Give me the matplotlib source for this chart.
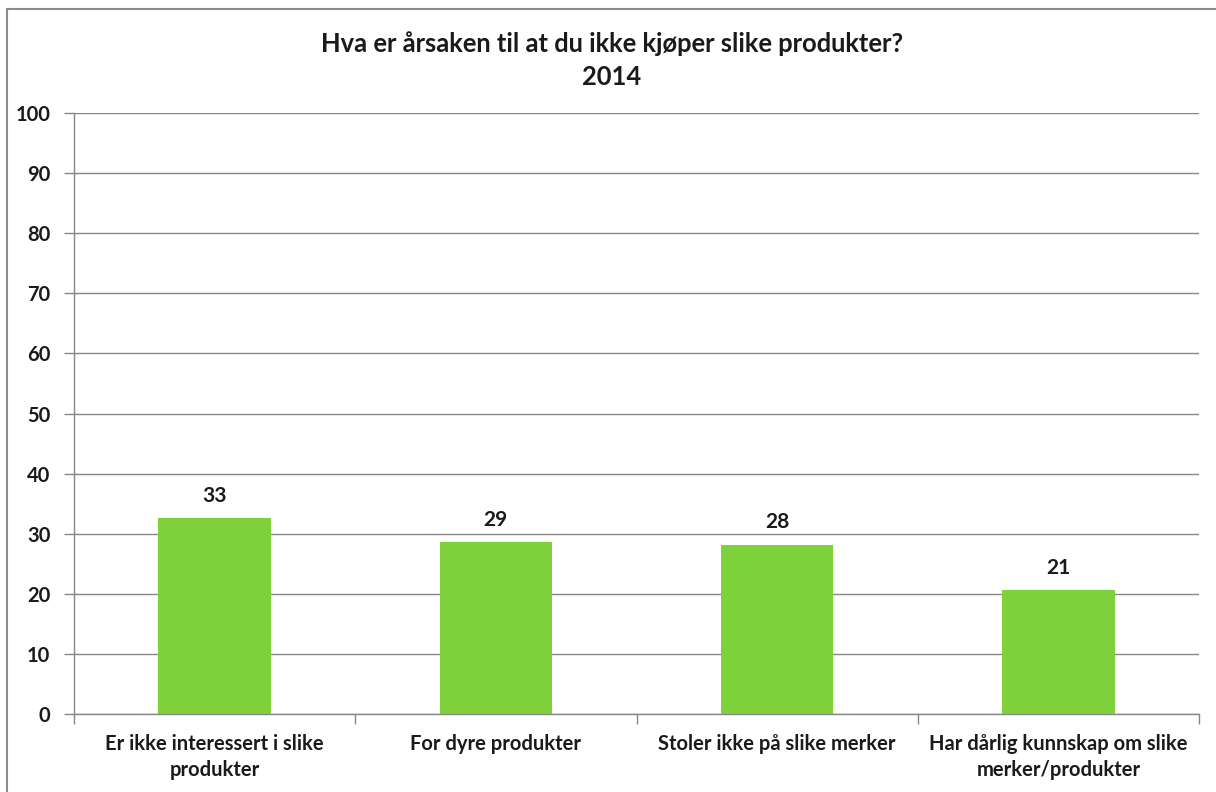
import matplotlib.pyplot as plt
from matplotlib.patches import Rectangle

categories = ['Er ikke interessert i slike\nprodukter',
              'For dyre produkter',
              'Stoler ikke på slike merker',
              'Har dårlig kunnskap om slike\nmerker/produkter']
values = [32.6, 28.6, 28.2, 20.7]
yticks = [0, 10, 20, 30, 40, 50, 60, 70, 80, 90, 100]

plt.rcParams['font.family'] = ['Lato', 'DejaVu Sans']
plt.rcParams['font.weight'] = 'bold'

green = '#7fd13b'
grey = '#868686'
ink = '#1a1a1a'

fig = plt.figure(figsize=(12.16, 7.92), dpi=100)
W, H = 1216, 792
ax = fig.add_axes([74 / W, 1 - 714 / H, (1199 - 74) / W, (714 - 113) / H])

# outer chart frame
fig.patches.append(Rectangle((7 / W, -0.1), 1.2, 1 - 9 / H + 0.1, transform=fig.transFigure,
                             fill=False, edgecolor='#8c8c8c', linewidth=1.5))

x = range(len(categories))
bars = ax.bar(x, values, width=0.40, color=green, zorder=3)
for b, v in zip(bars, values):
    ax.text(b.get_x() + b.get_width() / 2, v + 2.0, '%.0f' % v, ha='center', va='bottom',
            fontsize=15, fontweight='bold', color=ink)

ax.set_xlim(-0.5, len(categories) - 0.5)
ax.set_ylim(0, 100)
ax.set_yticks(yticks)
ax.set_yticklabels([str(t) for t in yticks], fontsize=14.5, fontweight='bold', color=ink)
ax.yaxis.grid(True, color=grey, linewidth=1, zorder=0)

# category labels centred under each bar, ticks between categories
ax.set_xticks([i - 0.5 for i in range(len(categories) + 1)])
ax.set_xticklabels([])
ax.tick_params(axis='x', direction='out', length=7, color=grey, width=1)
ax.tick_params(axis='y', direction='out', length=7, color=grey, width=1, pad=10)
for i, c in enumerate(categories):
    ax.text(i, -3.3, c, ha='center', va='top', fontsize=14.5, fontweight='bold',
            color=ink, linespacing=1.4)

for s in ['top', 'right']:
    ax.spines[s].set_visible(False)
for s in ['left', 'bottom']:
    ax.spines[s].set_color(grey)
    ax.spines[s].set_linewidth(1)

fig.text(612 / W, 1 - 60 / H, 'Hva er årsaken til at du ikke kjøper slike produkter?\n2014',
         ha='center', va='center', fontsize=18.4, fontweight='bold', color=ink,
         linespacing=1.42)

fig.savefig('out.png', dpi=100)
